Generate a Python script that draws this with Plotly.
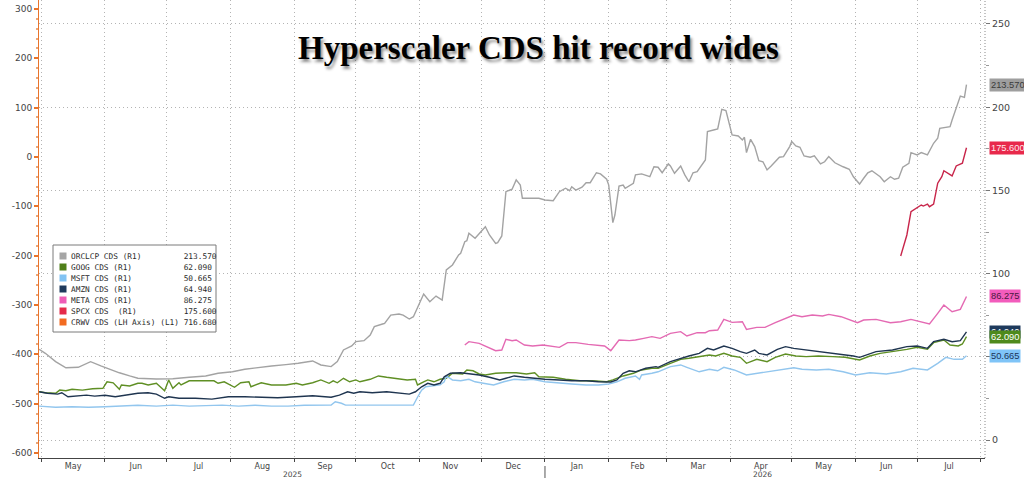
import plotly.graph_objects as go

# ---------------- data ----------------
orcl_dates = ["2025-04-30","2025-05-03","2025-05-08","2025-05-13","2025-05-19","2025-05-25","2025-05-30",
    "2025-06-03","2025-06-08","2025-06-13","2025-06-17","2025-06-26","2025-07-04","2025-07-12","2025-07-20",
    "2025-07-26","2025-08-02","2025-08-08","2025-08-15","2025-08-21","2025-08-28","2025-09-03","2025-09-10",
    "2025-09-14","2025-09-19","2025-09-22","2025-09-25","2025-09-29","2025-10-01","2025-10-05","2025-10-08",
    "2025-10-10","2025-10-14","2025-10-15","2025-10-18","2025-10-22","2025-10-24","2025-10-27","2025-10-29",
    "2025-11-03","2025-11-06","2025-11-09","2025-11-12","2025-11-14","2025-11-17","2025-11-20","2025-11-21",
    "2025-11-23","2025-11-24","2025-11-25","2025-11-28","2025-11-30","2025-12-03","2025-12-05","2025-12-08",
    "2025-12-09","2025-12-11","2025-12-13","2025-12-16","2025-12-18","2025-12-20","2025-12-21","2025-12-24",
    "2025-12-29","2026-01-01","2026-01-05","2026-01-08","2026-01-11","2026-01-13","2026-01-14","2026-01-16",
    "2026-01-19","2026-01-21","2026-01-23","2026-01-26","2026-01-28","2026-01-31","2026-02-01","2026-02-03",
    "2026-02-04","2026-02-06","2026-02-08","2026-02-09","2026-02-13","2026-02-14","2026-02-17","2026-02-21",
    "2026-02-23","2026-02-25","2026-02-27","2026-03-02","2026-03-03","2026-03-05","2026-03-08","2026-03-10",
    "2026-03-12","2026-03-14","2026-03-16","2026-03-20","2026-03-21","2026-03-24","2026-03-26","2026-03-28",
    "2026-03-30","2026-04-02","2026-04-05","2026-04-07","2026-04-08","2026-04-09","2026-04-11","2026-04-13",
    "2026-04-15","2026-04-17","2026-04-19","2026-04-21","2026-04-25","2026-04-27","2026-04-30","2026-05-01",
    "2026-05-03","2026-05-05","2026-05-07","2026-05-10","2026-05-12","2026-05-15","2026-05-17","2026-05-19",
    "2026-05-22","2026-05-26","2026-05-29","2026-05-31","2026-06-03","2026-06-05","2026-06-07","2026-06-09",
    "2026-06-13","2026-06-15","2026-06-18","2026-06-20","2026-06-22","2026-06-24","2026-06-27","2026-06-28",
    "2026-07-01","2026-07-03","2026-07-06","2026-07-09","2026-07-11","2026-07-12","2026-07-15","2026-07-17",
    "2026-07-18","2026-07-20","2026-07-22","2026-07-24","2026-07-25"]
orcl_vals = [54.5,52.1,47.1,43.4,43.7,47.1,44.5,
    42.5,40.4,38.5,37.1,36.7,36.8,37.7,38.5,
    40.1,41.0,42.5,43.7,44.5,45.3,46.1,47.5,
    45.1,44.1,47.1,54.1,56.5,59.1,59.7,63.1,
    68.1,69.7,70.1,75.1,75.7,75.1,72.7,74.1,
    87.7,83.1,86.5,84.1,102.2,105.2,111.2,112.2,
    119.2,119.8,124.2,121.2,124.2,128.2,123.2,118.2,
    118.6,122.6,149.2,150.7,156.3,153.2,145.3,145.3,
    145.3,144.2,143.8,149.2,151.3,149.8,152.2,150.2,
    151.9,154.6,154.6,160.6,159.9,156.7,153.2,130.6,
    135.2,152.6,153.2,151.3,154.3,159.3,159.9,158.2,
    164.2,163.9,160.6,165.9,164.7,160.3,164.7,159.3,
    155.2,160.6,161.2,168.3,185.3,186.3,186.9,198.7,
    197.9,183.3,182.7,180.3,181.9,172.7,180.7,176.3,
    167.9,167.2,162.3,164.7,169.9,170.3,176.3,179.3,
    176.7,175.9,170.7,169.9,170.7,165.9,167.2,170.3,
    166.6,164.2,162.7,158.2,153.8,157.3,160.6,161.8,
    158.2,155.2,158.2,156.7,157.3,163.9,166.3,172.7,
    171.3,172.7,171.3,178.3,181.3,187.3,187.9,188.3,
    192.3,199.3,206.7,205.9,213.57]

goog_dates = ["2025-04-30","2025-05-03","2025-05-08","2025-05-10","2025-05-13","2025-05-16","2025-05-21",
    "2025-05-26","2025-05-31","2025-06-02","2025-06-05","2025-06-08","2025-06-09","2025-06-13","2025-06-17",
    "2025-06-19","2025-06-22","2025-06-26","2025-06-30","2025-07-02","2025-07-04","2025-07-07","2025-07-08",
    "2025-07-12","2025-07-20","2025-07-24","2025-07-26","2025-07-29","2025-08-03","2025-08-06","2025-08-10",
    "2025-08-11","2025-08-16","2025-08-21","2025-08-28","2025-09-02","2025-09-05","2025-09-10","2025-09-14",
    "2025-09-18","2025-09-20","2025-09-22","2025-09-25","2025-09-28","2025-10-01","2025-10-03","2025-10-08",
    "2025-10-12","2025-10-16","2025-10-21","2025-10-26","2025-10-30","2025-10-31","2025-11-03","2025-11-05",
    "2025-11-08","2025-11-11","2025-11-14","2025-11-17","2025-11-22","2025-11-24","2025-11-27","2025-11-30",
    "2025-12-03","2025-12-08","2025-12-13","2025-12-18","2025-12-23","2025-12-27","2025-12-29","2026-01-05",
    "2026-01-11","2026-01-18","2026-01-24","2026-01-31","2026-02-03","2026-02-08","2026-02-13","2026-02-17",
    "2026-02-22","2026-02-25","2026-03-03","2026-03-08","2026-03-12","2026-03-17","2026-03-22","2026-03-25",
    "2026-03-29","2026-04-02","2026-04-06","2026-04-09","2026-04-14","2026-04-19","2026-04-23","2026-04-28",
    "2026-05-03","2026-05-08","2026-05-14","2026-05-21","2026-05-27","2026-06-03","2026-06-08","2026-06-13",
    "2026-06-19","2026-06-26","2026-07-01","2026-07-06","2026-07-09","2026-07-14","2026-07-17","2026-07-21",
    "2026-07-23","2026-07-25"]
goog_vals = [29.0,28.4,28.1,30.0,29.6,30.5,30.0,
    30.8,31.1,35.0,34.4,30.5,33.1,32.5,34.1,
    34.1,33.1,34.1,29.6,36.1,31.1,34.4,33.1,
    35.6,35.6,35.6,34.1,35.0,31.7,34.4,35.0,
    32.0,34.4,33.1,33.1,34.1,33.1,34.4,36.1,
    34.1,35.6,34.4,37.1,35.0,36.1,35.0,36.5,
    38.5,37.7,37.1,36.1,36.5,33.1,35.0,36.1,
    35.0,36.5,37.1,40.1,39.7,42.1,41.6,39.7,
    39.1,40.1,40.4,40.4,39.7,40.4,38.0,37.7,
    36.5,35.6,35.6,35.0,36.1,38.5,40.1,42.1,
    43.1,43.1,46.1,48.5,49.1,50.1,51.1,50.5,
    52.1,50.5,49.7,46.1,48.5,47.1,49.7,51.7,
    50.5,50.1,50.5,50.1,49.7,48.1,50.5,52.1,
    53.1,54.5,55.7,54.5,58.5,60.1,57.1,56.5,
    57.7,62.09]

msft_dates = ["2025-04-30","2025-05-08","2025-05-16","2025-05-24","2025-06-01","2025-06-09","2025-06-17",
    "2025-06-26","2025-07-04","2025-07-12","2025-07-20","2025-07-28","2025-08-05","2025-08-13","2025-08-21",
    "2025-08-29","2025-09-06","2025-09-14","2025-09-19","2025-09-21","2025-09-24","2025-09-26","2025-10-02",
    "2025-10-09","2025-10-22","2025-10-29","2025-10-31","2025-11-02","2025-11-04","2025-11-07","2025-11-11",
    "2025-11-13","2025-11-14","2025-11-17","2025-11-21","2025-11-25","2025-11-28","2025-12-02","2025-12-07",
    "2025-12-12","2025-12-17","2025-12-22","2025-12-26","2026-01-01","2026-01-08","2026-01-14","2026-01-21",
    "2026-01-27","2026-02-01","2026-02-05","2026-02-09","2026-02-14","2026-02-16","2026-02-17","2026-02-22",
    "2026-02-25","2026-03-03","2026-03-08","2026-03-11","2026-03-17","2026-03-22","2026-03-26","2026-03-29",
    "2026-04-03","2026-04-09","2026-04-14","2026-04-20","2026-04-27","2026-05-02","2026-05-06","2026-05-13",
    "2026-05-19","2026-05-26","2026-06-01","2026-06-08","2026-06-16","2026-06-23","2026-06-29","2026-07-06",
    "2026-07-11","2026-07-15","2026-07-19","2026-07-23","2026-07-25"]
msft_vals = [20.4,19.7,20.0,19.7,20.0,20.4,20.9,
    20.4,21.0,20.4,20.9,21.0,20.4,20.9,20.4,
    20.4,20.9,20.9,21.0,23.0,22.1,21.0,21.0,
    21.0,21.0,21.0,25.7,30.0,32.0,32.5,33.1,
    35.0,38.5,36.1,35.6,36.5,35.0,34.1,33.1,
    35.0,36.5,36.1,36.5,35.0,34.1,33.7,33.1,
    33.1,33.7,35.0,37.1,38.5,36.5,39.1,40.1,
    41.0,44.1,45.1,43.7,41.0,42.5,41.6,43.7,
    42.1,39.1,40.1,41.0,42.5,43.4,42.5,42.1,
    42.5,41.0,39.1,40.4,39.7,41.0,43.1,42.1,
    46.1,49.7,48.5,48.5,50.665]

amzn_dates = ["2025-04-30","2025-05-04","2025-05-09","2025-05-11","2025-05-14","2025-05-18","2025-05-23",
    "2025-05-27","2025-06-01","2025-06-06","2025-06-11","2025-06-17","2025-06-22","2025-06-26","2025-06-30",
    "2025-07-02","2025-07-07","2025-07-15","2025-07-23","2025-07-31","2025-08-08","2025-08-16","2025-08-24",
    "2025-09-02","2025-09-10","2025-09-19","2025-09-23","2025-09-27","2025-09-30","2025-10-03","2025-10-09",
    "2025-10-16","2025-10-22","2025-10-27","2025-10-30","2025-11-02","2025-11-05","2025-11-08","2025-11-11",
    "2025-11-13","2025-11-16","2025-11-21","2025-11-26","2025-11-30","2025-12-05","2025-12-10","2025-12-13",
    "2025-12-17","2025-12-22","2025-12-26","2026-01-01","2026-01-08","2026-01-14","2026-01-21","2026-01-27",
    "2026-02-02","2026-02-05","2026-02-08","2026-02-11","2026-02-14","2026-02-19","2026-02-24","2026-02-25",
    "2026-03-03","2026-03-08","2026-03-12","2026-03-17","2026-03-21","2026-03-24","2026-03-29","2026-04-02",
    "2026-04-06","2026-04-09","2026-04-13","2026-04-15","2026-04-19","2026-04-24","2026-04-28","2026-05-02",
    "2026-05-06","2026-05-11","2026-05-18","2026-05-24","2026-05-31","2026-06-03","2026-06-06","2026-06-11",
    "2026-06-19","2026-06-26","2026-07-01","2026-07-06","2026-07-09","2026-07-14","2026-07-18","2026-07-22",
    "2026-07-25"]
amzn_vals = [29.0,28.1,27.6,28.4,26.0,26.4,27.0,
    26.4,26.9,26.0,27.0,28.1,28.4,27.6,25.1,
    26.0,25.1,25.1,24.6,26.0,26.0,25.7,25.4,
    26.0,26.6,25.7,27.0,29.0,28.1,29.0,28.4,
    29.0,28.4,27.6,29.0,32.0,34.1,33.1,34.1,
    38.0,40.1,40.4,39.7,39.1,37.7,36.1,37.1,
    38.5,37.7,37.1,36.5,36.1,35.6,35.6,35.0,
    34.9,36.1,40.1,41.6,41.0,43.1,44.1,43.7,
    47.1,49.1,50.5,52.1,55.1,54.1,56.5,55.1,
    53.1,52.1,54.1,52.1,51.1,54.5,56.1,55.1,
    54.5,53.7,52.5,51.7,50.5,49.7,51.1,53.1,
    54.1,56.1,56.5,55.1,59.1,60.5,59.1,59.7,
    64.94]

meta_dates = ["2025-11-23","2025-11-25","2025-11-30","2025-12-05","2025-12-08","2025-12-11","2025-12-13",
    "2025-12-16","2025-12-18","2025-12-22","2025-12-26","2025-12-31","2026-01-05","2026-01-08","2026-01-12",
    "2026-01-16","2026-01-22","2026-01-30","2026-02-02","2026-02-06","2026-02-11","2026-02-14","2026-02-18",
    "2026-02-22","2026-02-26","2026-03-03","2026-03-08","2026-03-11","2026-03-16","2026-03-20","2026-03-22",
    "2026-03-26","2026-03-29","2026-04-02","2026-04-07","2026-04-09","2026-04-14","2026-04-18","2026-04-23",
    "2026-04-27","2026-05-02","2026-05-06","2026-05-11","2026-05-16","2026-05-19","2026-05-25","2026-05-30",
    "2026-06-02","2026-06-05","2026-06-11","2026-06-18","2026-06-23","2026-06-28","2026-07-02","2026-07-07",
    "2026-07-11","2026-07-14","2026-07-18","2026-07-22","2026-07-25"]
meta_vals = [57.1,59.1,58.1,55.1,53.7,54.1,60.5,
    59.7,60.1,57.1,56.5,57.1,56.1,55.7,58.5,
    58.5,57.5,56.5,53.7,60.1,59.7,60.1,61.1,
    62.1,61.1,64.1,65.1,62.5,64.5,64.5,65.7,
    66.1,72.5,70.7,71.1,66.5,67.7,67.7,70.5,
    72.5,75.1,74.1,75.1,74.5,75.5,74.1,71.7,
    70.5,72.1,72.5,70.5,71.1,72.5,71.1,69.7,
    76.1,81.1,77.1,78.5,86.275]

spcx_dates = ["2026-06-23","2026-06-26","2026-06-28","2026-07-01","2026-07-03","2026-07-04","2026-07-06",
    "2026-07-07","2026-07-09","2026-07-11","2026-07-13","2026-07-14","2026-07-18","2026-07-20","2026-07-23",
    "2026-07-25"]
spcx_vals = [110.6,123.2,137.2,139.8,141.2,140.6,141.8,
    140.2,141.8,154.3,158.2,161.8,158.7,164.7,166.3,
    175.6]

crwv_dates = []   # plotted on the left axis; off the visible range in the picture
crwv_vals = []

legend_names = ["ORCLCP CDS (R1)", "GOOG CDS (R1)", "MSFT CDS (R1)", "AMZN CDS (R1)",
                "META CDS (R1)", "SPCX CDS  (R1)", "CRWV CDS (LH Axis) (L1)"]
legend_last = [213.570, 62.090, 50.665, 64.940, 86.275, 175.600, 716.680]
legend_colors = ["#a5a5a5", "#4f7f1a", "#82c3f3", "#1e3a5c", "#ee5db7", "#e52a4a", "#f26b21"]

line_colors = ["#a3a3a3", "#5f8f24", "#92c6ee", "#1f3550", "#e46ab3", "#c8254a"]

left_ticks = [-600, -500, -400, -300, -200, -100, 0, 100, 200, 300]
left_ticktext = ["-600", "-500", "-400", "-300", "-200", "-100", "0", "100", "200", "300"]
right_ticks = [0, 50, 100, 150, 200, 250]
right_ticktext = ["0", "", "100", "150", "200", "250"]   # the 50 label sits under the MSFT tag

# tag labels on the right (drawn in this order; green drawn after navy)
tag_order = [0, 5, 4, 3, 1, 2]
tag_bg = ["#9e9e9e", "#4e8a1c", "#7fc4f7", "#1e3a5c", "#f25cbc", "#e8294b"]
tag_fg = ["#3a3a3a", "#ffffff", "#1c3557", "#ffffff", "#4a1a40", "#ffe8ec"]

# ---------------- figure ----------------
W, H = 1024, 478
PL, PR, PT, PB = 39, 985, 0, 458          # plot box in page pixels
ML, MR, MT, MB = PL, W - PR, PT, H - PB
PW, PH = PR - PL, PB - PT

def px_x(x):
    return (x - PL) / PW

def px_y(y):
    return 1 - (y - PT) / PH

fig = go.Figure()

series = [
    (orcl_dates, orcl_vals),
    (goog_dates, goog_vals),
    (msft_dates, msft_vals),
    (amzn_dates, amzn_vals),
    (meta_dates, meta_vals),
    (spcx_dates, spcx_vals),
]
for i, (d, v) in enumerate(series):
    fig.add_trace(go.Scatter(x=d, y=v, mode="lines", yaxis="y2", name=legend_names[i],
                             line=dict(color=line_colors[i], width=1.4), showlegend=False,
                             hoverinfo="skip"))
fig.add_trace(go.Scatter(x=crwv_dates, y=crwv_vals, mode="lines", yaxis="y", name=legend_names[6],
                         line=dict(color=legend_colors[6], width=1.4), showlegend=False))

annotations = []
shapes = []

# title
annotations.append(dict(
    text="<b>Hyperscaler CDS hit record wides</b>", xref="paper", yref="paper",
    x=px_x(538), y=px_y(48), xanchor="center", yanchor="middle", showarrow=False,
    font=dict(family="Liberation Serif, Times New Roman, serif", size=33, color="#000000",
              shadow="2px 3px 3px rgba(0,0,0,0.45)")))

# legend box
shapes.append(dict(type="rect", xref="paper", yref="paper",
                   x0=px_x(53), x1=px_x(216), y0=px_y(332), y1=px_y(245),
                   line=dict(color="#7a7a7a", width=1), fillcolor="white", layer="above"))
for i, (nm, last, col) in enumerate(zip(legend_names, legend_last, legend_colors)):
    yc = 256 + 11 * i
    shapes.append(dict(type="rect", xref="paper", yref="paper",
                       x0=px_x(59.5), x1=px_x(66.5), y0=px_y(yc + 3.5), y1=px_y(yc - 3.5),
                       line=dict(width=0), fillcolor=col, layer="above"))
    txt = (nm.ljust(24) + f"{last:.3f}").replace(" ", "\u00a0")
    annotations.append(dict(text=txt, xref="paper", yref="paper", x=px_x(69), y=px_y(yc),
                            xanchor="left", yanchor="middle", showarrow=False,
                            font=dict(family="DejaVu Sans Mono, Liberation Mono, monospace",
                                      size=7.8, color="#2a2a2a")))

# right-hand value tags
for i in tag_order:
    annotations.append(dict(text=f"{legend_last[i]:.3f}", xref="paper", yref="y2",
                            x=1, y=legend_last[i], xshift=4, xanchor="left", yanchor="middle",
                            showarrow=False, bgcolor=tag_bg[i], borderpad=1,
                            font=dict(family="Liberation Sans, Arial, sans-serif", size=9.3,
                                      color=tag_fg[i])))

# year labels
annotations.append(dict(text="2025", xref="x", yref="paper", x="2025-08-31", y=px_y(474),
                        showarrow=False, xanchor="center", yanchor="middle",
                        font=dict(family="DejaVu Sans, sans-serif", size=7.5, color="#444444")))
annotations.append(dict(text="2026", xref="x", yref="paper", x="2026-04-17", y=px_y(474),
                        showarrow=False, xanchor="center", yanchor="middle",
                        font=dict(family="DejaVu Sans, sans-serif", size=7.5, color="#444444")))
shapes.append(dict(type="line", xref="x", yref="paper", x0="2026-01-01", x1="2026-01-01",
                   y0=px_y(466), y1=px_y(478), line=dict(color="#555555", width=1)))

# dotted right axis line
shapes.append(dict(type="line", xref="paper", yref="paper", x0=1, x1=1, y0=0, y1=1,
                   line=dict(color="#8a8a8a", width=1, dash="1px,2px")))

tickfont = dict(family="DejaVu Sans, sans-serif", size=9, color="#444444")
GRID = "#b4b4b4"
GDASH = "1px,3px"

fig.update_layout(
    width=W, height=H,
    margin=dict(l=ML, r=MR, t=MT, b=MB, pad=0),
    paper_bgcolor="white", plot_bgcolor="white",
    showlegend=False,
    xaxis=dict(type="date", range=["2025-04-29 22:00", "2026-08-03"],
               dtick="M1", tick0="2025-05-01", ticklabelmode="period", tickformat="%b",
               ticks="outside", ticklen=3, tickcolor="#444444", ticklabelstandoff=-3,
               showline=True, linecolor="#444444", linewidth=1,
               showgrid=True, gridcolor=GRID, griddash=GDASH, gridwidth=1,
               zeroline=False, tickfont=dict(family="DejaVu Sans, sans-serif", size=8, color="#444444")),
    yaxis=dict(range=[-610.1, 318.1], side="left", tickvals=left_ticks, ticktext=left_ticktext,
               ticks="outside", ticklen=4, tickcolor="#e8742c", tickwidth=1.5,
               showline=True, linecolor="#e8742c", linewidth=1,
               showgrid=False, zeroline=False, tickfont=tickfont,
               minor=dict(dtick=20, ticks="outside", ticklen=2, tickcolor="#eba77a", showgrid=False)),
    yaxis2=dict(range=[-10.8, 264.4], side="right", overlaying="y", tickvals=right_ticks,
                ticktext=right_ticktext,
                ticks="outside", ticklen=4, tickcolor="#777777",
                showline=False, showgrid=True, gridcolor=GRID, griddash=GDASH, gridwidth=1,
                zeroline=False, tickfont=dict(family="DejaVu Sans, sans-serif", size=9.5, color="#444444"),
                minor=dict(dtick=25, ticks="outside", ticklen=3, tickcolor="#999999", showgrid=False)),
    annotations=annotations,
    shapes=shapes,
)

# the default page body has an 8px margin; remove it so the figure fills the window exactly
fig.write_html("out.html", config={"displayModeBar": False},
               post_script="document.body.style.margin='0';document.body.style.padding='0';")
